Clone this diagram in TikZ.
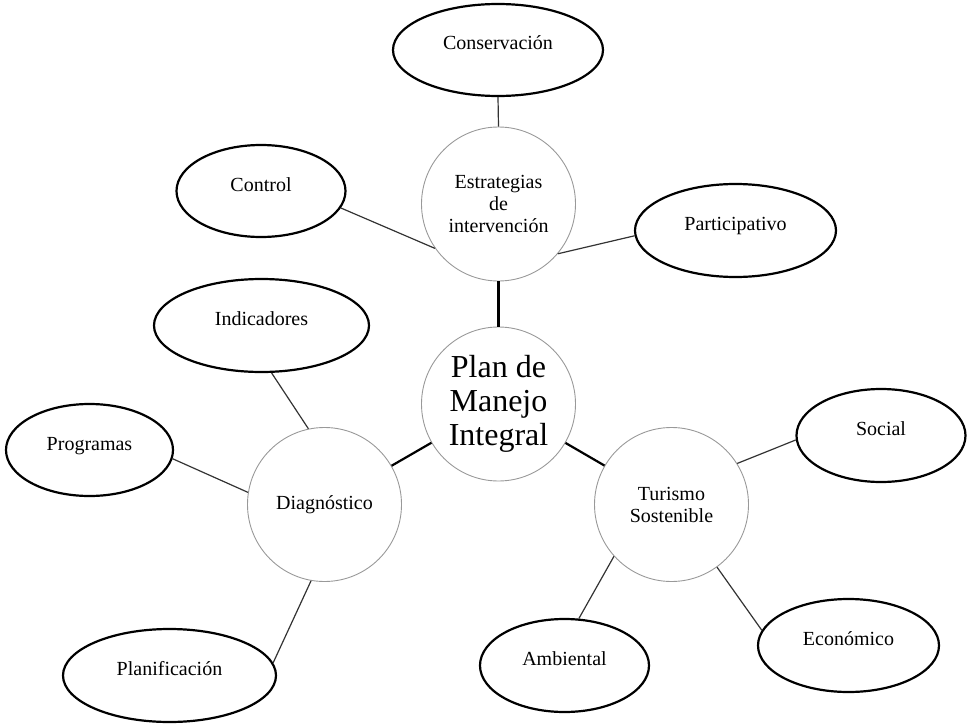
\documentclass[tikz,border=0pt]{standalone}
\usepackage{fontspec}
\setmainfont{Liberation Serif}
\usetikzlibrary{shapes.geometric}
\tikzset{oval/.style = {draw, ellipse, line width = 2.2pt, inner sep = 0, font = \fontsize{20}{22}\selectfont, text height = 10pt, text depth = 10pt}}
\tikzset{ring/.style = {draw = mgrey, circle, line width = 0.9pt, inner sep = 0, minimum size = 154pt, align = center, font = \fontsize{20}{22}\selectfont}}
\tikzset{link/.style = {draw = mdark, line width = 1.2pt}}
\tikzset{trunk/.style = {draw, line width = 2.2pt}}
\definecolor{mgrey}{rgb}{0.6, 0.6, 0.6}
\definecolor{mdark}{rgb}{0.2, 0.2, 0.2}

\begin{document}
\begin{tikzpicture}[x = 1pt, y = -1pt]
    \useasboundingbox (0, 0) rectangle (967, 725);

    \node [ring, font = \fontsize{32}{34}\selectfont] (plan) at (498.5, 404) {Plan de\\Manejo\\Integral};
    \node [ring] (est) at (498.5, 204) {Estrategias\\de\\intervención};
    \node [ring] (diag) at (324.5, 504.5) {Diagnóstico};
    \node [ring] (tur) at (671.5, 504.5) {Turismo\\Sostenible};

    \node [oval, minimum width = 210pt, minimum height = 92pt] (cons) at (498, 50) {Conservación};
    \node [oval, minimum width = 169pt, minimum height = 92pt] (ctrl) at (261, 191) {Control};
    \node [oval, minimum width = 201pt, minimum height = 93pt] (part) at (735.5, 230.5) {Participativo};

    \node [oval, minimum width = 215pt, minimum height = 93pt] (ind) at (261.5, 325.5) {Indicadores};
    \node [oval, minimum width = 167pt, minimum height = 92pt] (prog) at (89.5, 450) {Programas};
    \node [oval, minimum width = 213pt, minimum height = 93pt] (planif) at (169.5, 675.5) {Planificación};

    \node [oval, minimum width = 169pt, minimum height = 93pt] (soc) at (881, 435.5) {Social};
    \node [oval, minimum width = 181pt, minimum height = 93pt] (econ) at (848.5, 645.5) {Económico};
    \node [oval, minimum width = 169pt, minimum height = 93pt] (amb) at (564.5, 665.5) {Ambiental};

    \draw [trunk] (est.south) -- (plan.north);
    \draw [trunk] (plan) -- (diag);
    \draw [trunk] (plan) -- (tur);

    \draw [link] (cons.south) -- (est.north);
    \draw [link] (ctrl.-12) -- (est.215);
    \draw [link] (est.-40) -- (part.183);

    \draw [link] (ind.-78) -- (diag.102);
    \draw [link] (prog.-6) -- (diag.171);
    \draw [link] (planif.7) -- (diag.260);

    \draw [link] (tur.32) -- (soc.183);
    \draw [link] (tur.-54) -- (econ.170);
    \draw [link] (tur.222) -- (amb.73);
  \end{tikzpicture}
\end{document}
